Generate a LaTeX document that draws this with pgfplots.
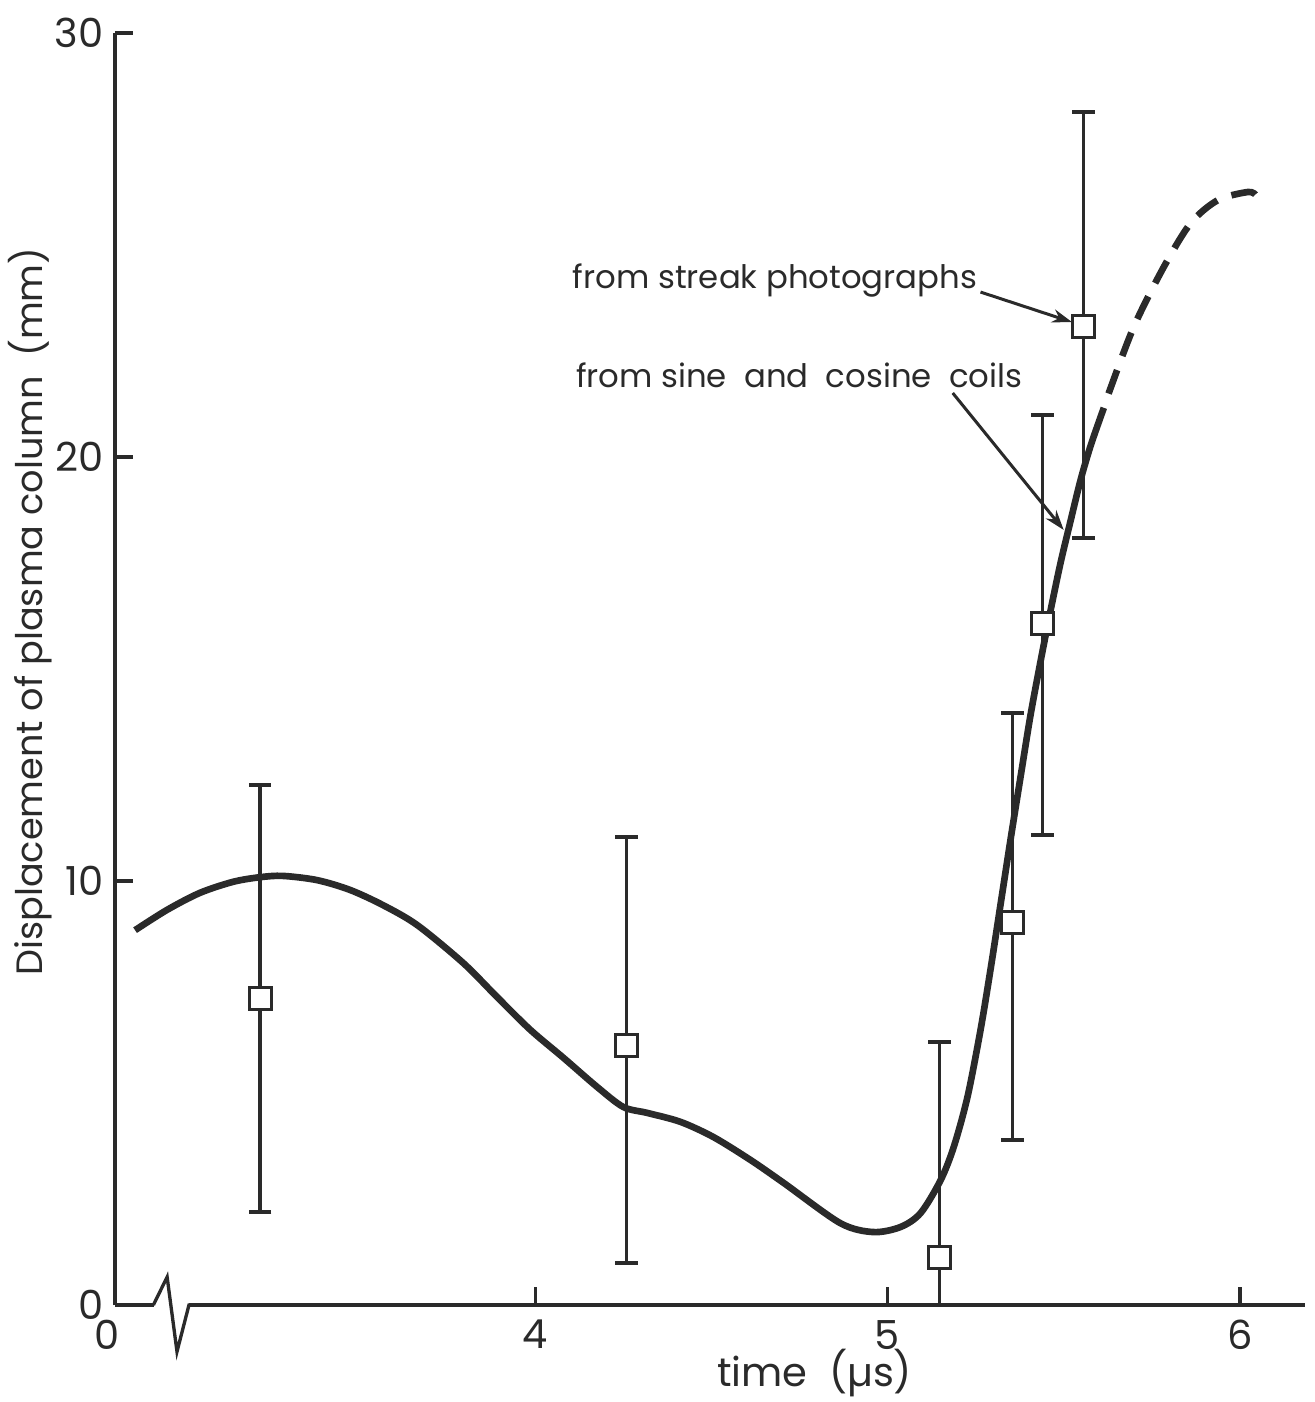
\documentclass[border=0pt]{standalone}
\usepackage{pgfplots}
\pgfplotsset{compat=1.18}
\usepackage{pgfplotstable}
\usepackage{fontspec}
\setmainfont{Poppins}
\usetikzlibrary{arrows.meta}
\definecolor{ink}{HTML}{2A2A2A}

\pgfplotstableread{
x      y
2.864  8.84
2.955  9.32
3.048  9.72
3.142  9.98
3.219  10.09
3.284  10.12
3.381  10.02
3.474  9.79
3.568  9.43
3.665  8.96
3.795  8.07
3.892  7.26
3.986  6.49
4.080  5.83
4.176  5.14
4.250  4.67
4.318  4.53
4.412  4.32
4.506  3.96
4.611  3.42
4.705  2.88
4.866  1.93
4.960  1.72
5.037  1.84
5.094  2.17
5.151  2.95
5.188  3.73
5.227  4.91
5.264  6.49
5.293  7.95
5.321  9.46
5.349  10.97
5.378  12.48
5.406  13.92
5.435  15.21
5.463  16.39
5.491  17.50
5.520  18.51
5.548  19.46
5.577  20.28
5.614  21.16
}\coilsolid

\pgfplotstableread{
x      y
5.614  21.16
5.628  21.51
5.699  23.07
5.784  24.48
5.861  25.52
5.938  26.06
6.023  26.25
6.045  26.18
}\coildashed

\pgfplotstableread{
x      y      ep    em
3.219  7.24   5.02  5.05
4.259  6.13   4.91  5.14
5.148  1.11   5.09  1.11
5.355  9.03   4.93  5.14
5.440  16.08  4.91  5.00
5.557  23.07  5.07  4.98
}\streak

\begin{document}
\begin{tikzpicture}[x=1pt,y=1pt]
\useasboundingbox (-34.5,-29.1) rectangle (359.7,391.5);
\begin{axis}[
  at={(0,0)}, anchor=south west,
  scale only axis, width=357pt, height=381.6pt,
  xmin=2.807, xmax=6.185, ymin=0, ymax=30,
  axis x line=bottom, axis y line=left,
  axis line style={-, line width=1.1pt, ink},
  xtick={2.807,4,5,6}, xticklabels={\makebox[0pt]{0\hspace{5pt}},4,5,6},
  ytick={0,10,20,30},
  tick align=inside, major tick length=5.5pt,
  tick style={line width=1pt, ink},
  minor tick num=0,
  ticklabel style={font=\fontsize{12}{12}\selectfont, text=ink},
  /pgf/number format/assume math mode=true,
  xticklabel style={yshift=-1pt},
  clip=false,
]
\addplot[ink, line width=2pt, smooth, tension=0.5] table {\coilsolid};
\addplot[ink, line width=2pt, dash pattern=on 7.5pt off 4.5pt, dash phase=7.5pt, smooth, tension=0.5] table {\coildashed};
\addplot[ink, only marks, mark=square*, mark size=3.3pt,
  mark options={fill=white, draw=ink, line width=0.9pt},
  error bars/.cd, y dir=both, y explicit,
  error bar style={line width=1pt, ink},
  error mark options={ink, rotate=90, line width=1.3pt, mark size=3.4pt}]
  table[x=x, y=y, y error plus=ep, y error minus=em] {\streak};

% broken axis
\draw[white, line width=3pt] (axis cs:2.918,0) -- (axis cs:3.017,0);
\draw[ink, line width=1pt, line join=miter] (axis cs:2.916,0) -- (axis cs:2.955,0.66) -- (axis cs:2.983,-1.1) -- (axis cs:3.017,0) -- (axis cs:3.03,0);

% annotations
\node[anchor=west, inner sep=0pt, text=ink, font=\fontsize{9.7}{11}\selectfont] at (axis cs:4.105,24.17) {from streak photographs};
\node[anchor=west, inner sep=0pt, text=ink, font=\fontsize{9.7}{11}\selectfont] at (axis cs:4.114,21.93) {from sine\ \ and\ \ cosine\ \ coils};
\draw[ink, line width=0.9pt, -{Stealth[length=6pt,width=4pt]}] (axis cs:5.264,23.89) -- (axis cs:5.524,23.18);
\draw[ink, line width=0.9pt, -{Stealth[length=6pt,width=4pt]}] (axis cs:5.185,21.51) -- (axis cs:5.500,18.28);

% axis labels
\node[text=ink, font=\fontsize{12}{12}\selectfont] at (rel axis cs:0.588,-0.0535) {time\ \ (µs)};
\node[rotate=90, text=ink, font=\fontsize{11}{11}\selectfont] at (rel axis cs:-0.0714,0.545) {Displacement\ of\ plasma\ column\ \ (mm)};
\end{axis}
\end{tikzpicture}
\end{document}
